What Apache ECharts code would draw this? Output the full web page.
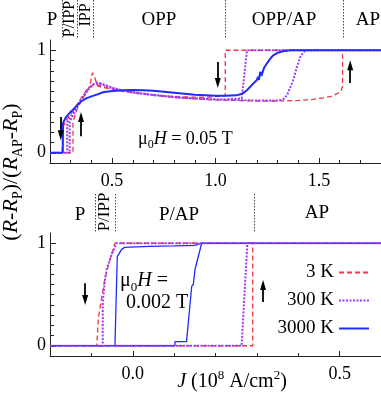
<!DOCTYPE html>
<html lang="en">
<head>
<meta charset="UTF-8">
<script src="https://cdn.jsdelivr.net/npm/echarts@6.0.0/dist/echarts.min.js"></script>
<title>switching</title>
</head>
<body style="margin: 0">
<div id="container" style="width: 381px; height: 398px"></div>
<script>
    // --- data: (R-Rp)/(Rap-Rp) against J (10^8 A/cm^2), '-' breaks the sweep ---
    // top panel, mu0H = 0.05 T
    var top3K = [
        [0.2, 0], [0.311, 0], [0.311, 0.3], [0.33, 0.42], [0.35, 0.5], [0.37, 0.57], [0.385, 0.62],
        [0.395, 0.68], [0.405, 0.78], [0.412, 0.76], [0.43, 0.65], [0.45, 0.64], [0.5, 0.62],
        [0.6, 0.59], [0.7, 0.56], [0.8, 0.54], [0.9, 0.525], [1.0, 0.515], [1.1, 0.51], [1.2, 0.505],
        [1.3, 0.505], [1.4, 0.51], [1.47, 0.52], [1.52, 0.535], [1.56, 0.55], [1.59, 0.58], [1.607, 0.6],
        [1.614, 0.65], [1.614, 1], [1.8, 1],
        ['-', '-'],
        [1.614, 1], [1.047, 1], [1.047, 0.555], [0.95, 0.54], [0.85, 0.545], [0.75, 0.555], [0.65, 0.575],
        [0.55, 0.6], [0.48, 0.63], [0.44, 0.66], [0.41, 0.665], [0.38, 0.62], [0.35, 0.53], [0.32, 0.44],
        [0.3, 0.38], [0.28, 0.32], [0.262, 0.25], [0.258, 0]
    ];
    var top300K = [
        [0.2, 0], [0.295, 0], [0.295, 0.3], [0.31, 0.36], [0.33, 0.44], [0.35, 0.51], [0.37, 0.57],
        [0.39, 0.63], [0.41, 0.67], [0.425, 0.685], [0.44, 0.68], [0.47, 0.66], [0.5, 0.635], [0.55, 0.61],
        [0.6, 0.59], [0.7, 0.565], [0.8, 0.545], [0.9, 0.53], [1.0, 0.52], [1.1, 0.515], [1.2, 0.51],
        [1.3, 0.51], [1.327, 0.52], [1.345, 0.56], [1.36, 0.63], [1.376, 0.71], [1.394, 0.84],
        [1.41, 0.935], [1.434, 1], [1.8, 1],
        ['-', '-'],
        [1.434, 1], [1.152, 1], [1.127, 0.53], [1.05, 0.52], [1.0, 0.52], [0.8, 0.54], [0.6, 0.585],
        [0.5, 0.63], [0.44, 0.675], [0.41, 0.665], [0.38, 0.61], [0.35, 0.52], [0.32, 0.42], [0.3, 0.35],
        [0.283, 0.3], [0.283, 0]
    ];
    var top3000K = [
        [0.2, 0], [0.262, 0], [0.263, 0.29], [0.275, 0.34], [0.287, 0.37], [0.3, 0.4], [0.311, 0.42],
        [0.33, 0.46], [0.35, 0.5], [0.375, 0.53], [0.4, 0.55], [0.43, 0.57], [0.456, 0.59], [0.49, 0.6],
        [0.52, 0.605], [0.56, 0.61], [0.6, 0.612], [0.65, 0.61], [0.7, 0.605], [0.75, 0.595], [0.8, 0.585],
        [0.85, 0.575], [0.9, 0.565], [0.95, 0.56], [1.0, 0.555], [1.05, 0.555], [1.1, 0.56], [1.12, 0.57],
        [1.14, 0.59], [1.152, 0.61], [1.175, 0.66], [1.19, 0.69], [1.2, 0.71], [1.205, 0.74], [1.21, 0.71],
        [1.216, 0.79], [1.222, 0.75], [1.235, 0.83], [1.248, 0.87], [1.265, 0.92], [1.279, 0.95],
        [1.3, 0.975], [1.327, 0.99], [1.36, 1], [1.8, 1]
    ];
    // bottom panel, mu0H = 0.002 T
    var bot3K = [
        [-0.2, 0], [0.29, 0], [0.29, 1], [0.6, 1],
        ['-', '-'],
        [0.29, 1], [-0.043, 1], [-0.055, 0.84], [-0.067, 0.66], [-0.075, 0.47], [-0.083, 0.275], [-0.087, 0]
    ];
    var bot300K = [
        [-0.2, 0], [0.263, 0], [0.277, 1], [0.6, 1],
        ['-', '-'],
        [0.277, 1], [-0.039, 1], [-0.051, 0.89], [-0.063, 0.745], [-0.067, 0.65], [-0.0726, 0.42], [-0.0726, 0]
    ];
    var bot3000K = [
        [-0.2, 0], [0.102, 0], [0.102, 0.04], [0.13, 0.04], [0.1425, 0.58], [0.1464, 0.6], [0.1505, 0.745],
        [0.1546, 0.81], [0.1666, 1], [0.6, 1],
        ['-', '-'],
        [0.1666, 1], [0.15, 0.98], [0.1, 0.975], [0.04, 0.97], [-0.02, 0.96], [-0.027, 0.94],
        [-0.0374, 0.87], [-0.043, 0]
    ];

    // ticks and labels
    var topMajor = [0.5, 1.0, 1.5];
    var topMinor = [0.3, 0.4, 0.6, 0.7, 0.8, 0.9, 1.1, 1.2, 1.3, 1.4, 1.6, 1.7];
    var botMajor = [0.0, 0.5];
    var botMinor = [-0.1, 0.1, 0.2, 0.3, 0.4];
    var yMajor = [0, 1];
    var yMinor = [0.1, 0.2, 0.3, 0.4, 0.5, 0.6, 0.7, 0.8, 0.9];
    var legendNames = ['3 K', '300 K', '3000 K'];

    // region boundaries (J) and switching arrows [J, from, to]
    var topRegionJ = [0.257, 0.329, 0.41, 1.047, 1.614];
    var botRegionJ = [-0.091, -0.043, 0.293];
    var topArrows = [[0.252, 0.35, 0.17], [0.35, 0.16, 0.35], [1.011, 0.886, 0.68], [1.651, 0.68, 0.854]];
    var botArrows = [[-0.115, 0.61, 0.447], [0.315, 0.427, 0.592]];

    var FONT = '"Liberation Serif", "DejaVu Serif", serif';
    var RED = '#f0364a', PURPLE = '#9b3cff', BLUE = '#1f2cff';

    function richSet(size) {
        var sub = Math.round(size * 0.65);
        return {
            n: {fontFamily: FONT, fontSize: size, lineHeight: size + 6, color: '#000'},
            i: {fontFamily: FONT, fontSize: size, lineHeight: size + 6, fontStyle: 'italic', color: '#000'},
            s: {fontFamily: FONT, fontSize: sub, lineHeight: sub, verticalAlign: 'bottom', color: '#000'},
            u: {fontFamily: FONT, fontSize: sub, lineHeight: sub + 4, verticalAlign: 'top', color: '#000'}
        };
    }

    function xAxes(grid, min, max, major, minor) {
        return [{
            type: 'value', gridIndex: grid, min: min, max: max, position: 'bottom',
            axisLine: {show: true, onZero: false, lineStyle: {color: '#222', width: 1}},
            axisTick: {show: true, inside: true, length: 5, customValues: major, lineStyle: {color: '#222'}},
            axisLabel: {customValues: major, margin: 9, color: '#000', fontFamily: FONT, fontSize: 18,
                formatter: function (v) { return v.toFixed(1); }},
            splitLine: {show: false}
        }, {
            type: 'value', gridIndex: grid, min: min, max: max, position: 'bottom',
            axisLine: {show: false, onZero: false},
            axisTick: {show: true, inside: true, length: 3, customValues: minor, lineStyle: {color: '#222'}},
            axisLabel: {show: false},
            splitLine: {show: false}
        }];
    }

    function yAxes(grid) {
        return [{
            type: 'value', gridIndex: grid, min: -0.1, max: 1.1, position: 'left',
            axisLine: {show: true, onZero: false, lineStyle: {color: '#222', width: 1}},
            axisTick: {show: true, inside: true, length: 6, customValues: yMajor, lineStyle: {color: '#222'}},
            axisLabel: {customValues: yMajor, margin: 4, color: '#000', fontFamily: FONT, fontSize: 18,
                formatter: function (v) { return String(Math.round(v)); }},
            splitLine: {show: false}
        }, {
            type: 'value', gridIndex: grid, min: -0.1, max: 1.1, position: 'left',
            axisLine: {show: false, onZero: false},
            axisTick: {show: true, inside: true, length: 4, customValues: yMinor, lineStyle: {color: '#222'}},
            axisLabel: {show: false},
            splitLine: {show: false}
        }];
    }

    function arrowLines(list) {
        return {
            silent: true,
            symbol: ['none', 'triangle'],
            symbolSize: [6, 10],
            label: {show: false},
            emphasis: {disabled: true},
            lineStyle: {color: '#000', width: 1.8, type: 'solid'},
            data: list.map(function (a) { return [{coord: [a[0], a[1]]}, {coord: [a[0], a[2]]}]; })
        };
    }

    function curve(name, data, idx, color, type, width, marks) {
        var s = {
            name: name, type: 'line', data: data, xAxisIndex: idx, yAxisIndex: idx,
            symbol: 'none', connectNulls: false, silent: true,
            lineStyle: {color: color, type: type, width: width},
            itemStyle: {color: color}
        };
        if (marks) s.markLine = marks;
        return s;
    }

    var dom = document.getElementById('container');
    var myChart = echarts.init(dom, null, {renderer: 'canvas'});

    var option = {
        animation: false,
        backgroundColor: '#fff',
        grid: [
            {left: 50, right: 0, top: 40, height: 123},
            {left: 50, right: 0, top: 233, height: 123}
        ],
        xAxis: xAxes(0, 0.2, 1.8, topMajor, topMinor).concat(xAxes(1, -0.2, 0.6, botMajor, botMinor)),
        yAxis: yAxes(0).concat(yAxes(1)),
        legend: {
            data: legendNames, orient: 'vertical', right: 6, top: 258, align: 'right',
            itemWidth: 30, itemHeight: 14, itemGap: 9, selectedMode: false,
            itemStyle: {opacity: 0},
            textStyle: {fontFamily: FONT, fontSize: 19, color: '#000'}
        },
        series: [
            curve('3 K', top3K, 0, RED, [5, 3], 1.3),
            curve('300 K', top300K, 0, PURPLE, [2, 1.5], 2),
            curve('3000 K', top3000K, 0, BLUE, 'solid', 2, arrowLines(topArrows)),
            curve('3 K', bot3K, 2, RED, [5, 3], 1.3),
            curve('3000 K', bot3000K, 2, BLUE, 'solid', 1.3, arrowLines(botArrows)),
            curve('300 K', bot300K, 2, PURPLE, [2, 1.5], 2)
        ]
    };
    myChart.setOption(option);

    // annotations: region boundaries, region names, field values, axis titles
    function txt(x, y, text, size, extra) {
        var el = {
            type: 'text', x: x, y: y, silent: true,
            style: {text: text, rich: richSet(size), align: 'center', verticalAlign: 'middle',
                fontFamily: FONT, fontSize: size, fill: '#000'}
        };
        for (var k in extra) el[k] = extra[k];
        return el;
    }
    function vline(x, y1, y2) {
        return {type: 'line', silent: true, shape: {x1: x, y1: y1, x2: x, y2: y2},
            style: {stroke: '#444', lineWidth: 1, lineDash: [1.5, 1.5]}};
    }

    var g = [];
    topRegionJ.forEach(function (j) {
        var px = Math.round(myChart.convertToPixel({xAxisIndex: 0}, j)) + 0.5;
        g.push(vline(px, 0, 38));
    });
    botRegionJ.forEach(function (j) {
        var px = Math.round(myChart.convertToPixel({xAxisIndex: 2}, j)) + 0.5;
        g.push(vline(px, 194, 233));
    });
    g.push(txt(52, 20, '{n|P}', 19));
    g.push(txt(69.5, 19, '{n|P/IPP}', 16, {rotation: Math.PI / 2}));
    g.push(txt(86, 15, '{n|IPP}', 16, {rotation: Math.PI / 2}));
    g.push(txt(159, 20, '{n|OPP}', 19));
    g.push(txt(284, 20, '{n|OPP/AP}', 19));
    g.push(txt(368, 20, '{n|AP}', 19));
    g.push(txt(80, 215, '{n|P}', 19));
    g.push(txt(105, 212, '{n|P/IPP}', 17, {rotation: Math.PI / 2}));
    g.push(txt(179, 215, '{n|P/AP}', 19));
    g.push(txt(317, 213, '{n|AP}', 19));

    var topField = txt(138, 139, '{n|μ}{s|0}{i|H}{n| = 0.05 T}', 18);
    topField.style.align = 'left';
    g.push(topField);
    var botField1 = txt(120, 281, '{n|μ}{s|0}{i|H}{n| =}', 20);
    botField1.style.align = 'left';
    g.push(botField1);
    var botField2 = txt(126, 303, '{n|0.002 T}', 20);
    botField2.style.align = 'left';
    g.push(botField2);

    g.push(txt(11, 172, '{n|(}{i|R}{n|-}{i|R}{s|P}{n|)/(}{i|R}{s|AP}{n|-}{i|R}{s|P}{n|)}', 22,
        {rotation: Math.PI / 2}));
    g.push(txt(232, 382, '{i|J}{n| (10}{u|8}{n| A/cm}{u|2}{n|)}', 20));

    myChart.setOption({graphic: g});
</script>
</body>
</html>
